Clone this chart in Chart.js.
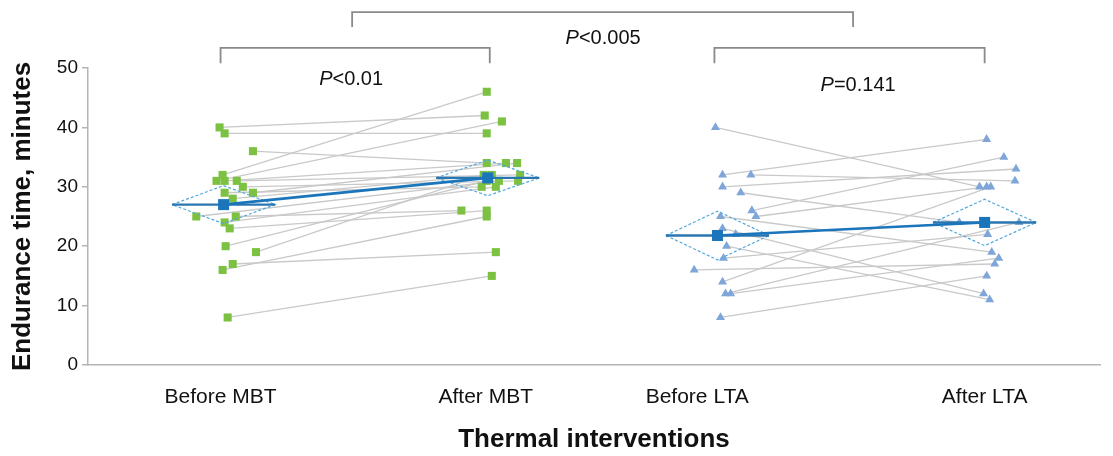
<!DOCTYPE html>
<html><head><meta charset="utf-8">
<script src="https://cdn.jsdelivr.net/npm/chart.js@4"></script>
<style>html,body{margin:0;padding:0;background:#fff}#wrap{width:1113px;height:456px}</style>
</head><body><div id="wrap"><canvas id="c"></canvas></div>
<script>
// ---------- data ----------
const categories = ["Before MBT", "After MBT", "Before LTA", "After LTA"];
const categoryPos = [13.4, 39.5, 62.2, 88.6];      // x-axis units
const tickLabelPos = [13.1, 39.3, 60.2, 88.6];
const yTicks = [0, 10, 20, 30, 40, 50];

const mbtBefore = [40,39,36,32,31,31,31,30,29,29,28,25,25,24,23,20,19,17,16,8];
const mbtAfter  = [42,39,34,46,41,34,32,31,34,30,32,31,26,30,26,31,32,19,25,15];
const mbtBeforeJitter = [-0.4,0.1,2.9,-0.1,-0.7,0.1,1.3,1.9,2.9,0.1,0.9,-2.7,1.2,0.1,0.6,0.2,3.2,0.9,-0.1,0.4];
const mbtAfterJitter  = [-0.3,-0.1,-0.1,-0.1,1.4,1.8,3.2,3.0,2.9,-0.6,0.4,1.1,-2.6,0.8,-0.1,-0.1,-0.4,0.8,-0.1,0.4];

const ltaBefore = [40,32,32,30,29,26,25,25,23,22,20,18,16,14,12,12,8];
const ltaAfter  = [30,38,31,33,24,35,30,19,12,24,11,22,17,30,24,18,15];
const ltaBeforeJitter = [-0.2,0.5,3.3,0.5,2.3,3.4,3.8,0.3,0.5,1.8,0.9,0.6,-2.3,0.5,0.8,1.3,0.3];
const ltaAfterJitter  = [-0.5,0.2,3.0,3.1,-2.5,1.9,0.2,0.7,-0.1,0.1,0.5,0.3,1.0,0.6,3.4,1.4,0.2];

const meanMBT = [27, 31.5];
const meanLTA = [21.8, 24];
const ciMBT = [3.2, 3.0];
const ciLTA = [4.1, 3.9];
const diamondHalfWidth = 5.1;

const brackets = [
  {x1: 26.1, x2: 75.6, yTop: 59.4, yEnd: 56.9, label: "<0.005", lx: 50.9, ly: 55.0},
  {x1: 13.1, x2: 39.7, yTop: 53.4, yEnd: 50.8, label: "<0.01",  lx: 26.0, ly: 48.0},
  {x1: 61.9, x2: 88.6, yTop: 53.4, yEnd: 50.8, label: "=0.141", lx: 76.1, ly: 47.1}
];

// ---------- styles ----------
const GREEN = '#7dc143', TRI = '#7fa6d8', MEAN = '#1b75bb', DIAM = '#4fa9dc', GRAY = '#c9c9c9';
const FONT = '"Liberation Sans", Arial, sans-serif';
const PFONT = 20;

const datasets = [];
function addPairs(before, after, bj, aj, i0, i1) {
  for (let i = 0; i < before.length; i++) {
    datasets.push({
      type: 'line', order: 10,
      data: [{x: categoryPos[i0] + bj[i], y: before[i]}, {x: categoryPos[i1] + aj[i], y: after[i]}],
      borderColor: GRAY, borderWidth: 1.3, pointRadius: 0, fill: false
    });
  }
}
addPairs(mbtBefore, mbtAfter, mbtBeforeJitter, mbtAfterJitter, 0, 1);
addPairs(ltaBefore, ltaAfter, ltaBeforeJitter, ltaAfterJitter, 2, 3);

function addPoints(vals, jit, ci, style, color, r) {
  datasets.push({
    type: 'scatter', order: 5,
    data: vals.map((v, i) => ({x: categoryPos[ci] + jit[i], y: v})),
    pointStyle: style, pointRadius: r, backgroundColor: color, borderColor: color, borderWidth: 0
  });
}
addPoints(mbtBefore, mbtBeforeJitter, 0, 'rect', GREEN, 5.7);
addPoints(mbtAfter, mbtAfterJitter, 1, 'rect', GREEN, 5.7);
addPoints(ltaBefore, ltaBeforeJitter, 2, 'triangle', TRI, 5.2);
addPoints(ltaAfter, ltaAfterJitter, 3, 'triangle', TRI, 5.2);

function addMeanGroup(means, cis, i0, i1) {
  [i0, i1].forEach((ci, k) => {
    const cx = categoryPos[ci], m = means[k], h = cis[k], w = diamondHalfWidth;
    datasets.push({
      type: 'line', order: 3,
      data: [{x: cx - w, y: m}, {x: cx, y: m + h}, {x: cx + w, y: m}, {x: cx, y: m - h}, {x: cx - w, y: m}],
      borderColor: DIAM, borderWidth: 1.2, borderDash: [3, 2], pointRadius: 0, fill: false, tension: 0
    });
    datasets.push({
      type: 'line', order: 2,
      data: [{x: cx - w, y: m}, {x: cx + w, y: m}],
      borderColor: '#2a76b0', borderWidth: 2.4, pointRadius: 0, fill: false
    });
  });
  datasets.push({
    type: 'line', order: 1,
    data: [{x: categoryPos[i0], y: means[0]}, {x: categoryPos[i1], y: means[1]}],
    borderColor: MEAN, borderWidth: 2.6, pointStyle: 'rect', pointRadius: 7.8,
    pointBackgroundColor: MEAN, pointBorderWidth: 0, fill: false
  });
}
addMeanGroup(meanMBT, ciMBT, 0, 1);
addMeanGroup(meanLTA, ciLTA, 2, 3);

const bracketPlugin = {
  id: 'brackets',
  afterDraw(chart) {
    const ctx = chart.ctx, xs = chart.scales.x, ys = chart.scales.y;
    ctx.save();
    ctx.strokeStyle = '#8a8a8a'; ctx.lineWidth = 1.8;
    brackets.forEach(b => {
      const x1 = xs.getPixelForValue(b.x1), x2 = xs.getPixelForValue(b.x2);
      const yt = ys.getPixelForValue(b.yTop), ye = ys.getPixelForValue(b.yEnd);
      ctx.beginPath();
      ctx.moveTo(x1, ye); ctx.lineTo(x1, yt); ctx.lineTo(x2, yt); ctx.lineTo(x2, ye);
      ctx.stroke();
      ctx.fillStyle = '#111'; ctx.textBaseline = 'middle'; ctx.textAlign = 'left';
      ctx.font = 'italic ' + PFONT + 'px ' + FONT;
      const wp = ctx.measureText('P').width;
      ctx.font = PFONT + 'px ' + FONT;
      const wr = ctx.measureText(b.label).width;
      const lx = xs.getPixelForValue(b.lx) - (wp + wr) / 2, ly = ys.getPixelForValue(b.ly);
      ctx.font = 'italic ' + PFONT + 'px ' + FONT; ctx.fillText('P', lx, ly);
      ctx.font = PFONT + 'px ' + FONT; ctx.fillText(b.label, lx + wp, ly);
    });
    ctx.restore();
  }
};

new Chart(document.getElementById('c'), {
  data: {datasets},
  plugins: [bracketPlugin],
  options: {
    responsive: true, maintainAspectRatio: false, animation: false,
    layout: {padding: {top: 68, right: 13, left: 0, bottom: 0}},
    plugins: {legend: {display: false}, tooltip: {enabled: false}},
    scales: {
      x: {
        type: 'linear', min: 0, max: 100,
        afterBuildTicks: s => { s.ticks = tickLabelPos.map(v => ({value: v})); },
        afterFit: s => { s.height = 91; },
        ticks: {
          autoSkip: false, maxRotation: 0, padding: 12, color: '#111',
          font: {family: FONT, size: 21},
          callback: (v, i) => categories[i]
        },
        grid: {display: false},
        border: {display: true, color: '#b5b5b5', width: 1.5},
        title: {display: true, text: 'Thermal interventions', color: '#111',
          font: {family: FONT, size: 26, weight: 'bold'}, padding: {top: 4, bottom: 1}}
      },
      y: {
        type: 'linear', min: 0, max: 50,
        afterBuildTicks: s => { s.ticks = yTicks.map(v => ({value: v})); },
        afterFit: s => { s.width = 88; },
        ticks: {padding: 4, color: '#111', font: {family: FONT, size: 19}},
        grid: {display: true, drawOnChartArea: false, tickLength: 6, color: '#b5b5b5', lineWidth: 1.5},
        border: {display: true, color: '#b5b5b5', width: 1.5},
        title: {display: true, text: 'Endurance time, minutes', color: '#111',
          font: {family: FONT, size: 26, weight: 'bold'}, padding: {top: 7, bottom: 4}}
      }
    }
  }
});
</script></body></html>
